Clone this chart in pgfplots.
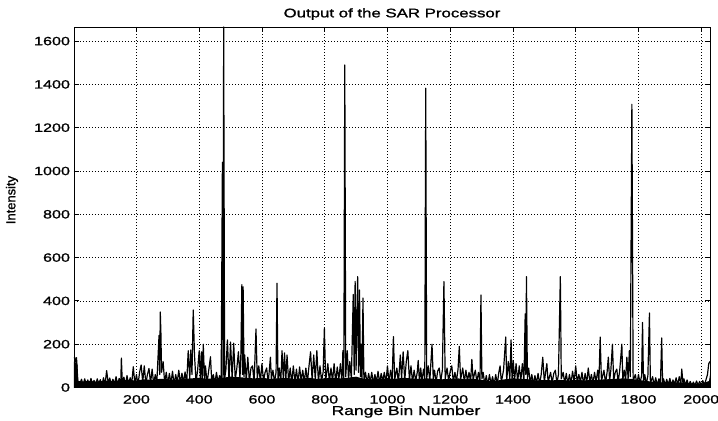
\documentclass[border=0pt]{standalone}
\usepackage{fontspec}
\setmainfont{Liberation Sans}
\newfontfamily\widefont{Liberation Sans}[FakeStretch=1.35, FakeBold=1.2]
\newfontfamily\labfont{Liberation Sans}[FakeBold=1.2]
\usepackage{pgfplots}
\pgfplotsset{compat=1.18}

% SAR processor output, read off the scan bin by bin (every ~5 bins)
\pgfplotstableread{
x y
1 135
3 140
6 118
9 138
12 60
14 20
18 12
25 38
30 8
35 40
40 14
45 35
50 10
55 42
60 15
65 33
70 9
75 40
80 18
85 36
90 8
95 45
100 12
105 78
110 20
115 44
120 10
125 38
130 15
135 50
140 12
145 42
150 18
152 136
155 20
160 48
165 10
170 55
175 14
180 45
185 20
190 96
195 15
200 60
205 12
210 70
215 104
220 25
225 100
230 18
235 60
240 88
245 20
250 85
255 14
260 60
265 22
272 240
274 60
276 349
278 250
280 70
285 120
290 20
295 70
300 15
305 65
310 20
315 75
320 12
325 60
330 25
335 80
340 18
345 66
350 22
355 72
360 15
365 170
370 40
373 173
377 60
381 358
385 150
390 25
395 80
400 170
404 30
407 165
410 40
413 200
417 30
420 100
425 20
430 75
436 142
440 25
445 60
450 18
455 70
460 25
465 55
470 20
474 1040
476 30
478 1665
481 40
485 80
490 220
495 30
500 210
505 40
510 205
515 35
520 90
525 165
530 40
533 160
536 475
538 60
540 465
543 50
545 150
550 30
555 140
560 25
565 90
570 100
575 20
581 270
585 40
590 100
595 25
600 110
605 30
610 70
615 90
620 20
627 140
630 40
635 80
640 25
645 70
648 482
651 30
655 90
660 25
664 170
668 40
672 160
676 30
680 150
685 25
690 90
695 20
700 100
705 25
710 85
715 20
720 95
725 30
730 80
735 22
740 90
745 25
750 100
755 165
760 30
765 150
770 35
775 170
780 25
785 100
790 30
795 70
799 275
803 30
810 110
815 25
820 90
825 30
830 110
835 20
840 95
845 35
850 110
855 25
858 170
861 40
864 1490
867 50
872 170
876 30
880 120
885 40
891 430
894 60
897 490
900 80
905 512
908 70
911 450
914 50
916 200
919 40
922 413
925 30
930 70
935 20
940 65
945 25
950 70
955 18
960 60
965 25
970 75
975 20
980 65
985 30
990 70
995 20
1000 100
1005 25
1010 80
1015 30
1019 235
1023 35
1030 90
1035 20
1041 150
1045 40
1050 165
1055 30
1060 120
1065 170
1070 35
1075 100
1080 25
1085 80
1090 30
1095 70
1098 125
1102 25
1106 90
1110 30
1115 85
1119 40
1122 1382
1125 40
1130 100
1135 30
1142 200
1146 40
1150 80
1155 25
1160 75
1165 90
1170 30
1175 80
1180 489
1184 40
1190 90
1195 30
1200 75
1205 100
1210 25
1215 70
1220 30
1225 85
1229 190
1233 35
1240 90
1245 25
1250 80
1255 30
1260 70
1265 25
1269 130
1273 35
1280 80
1285 25
1290 70
1295 30
1298 427
1301 40
1305 70
1310 15
1315 55
1320 10
1325 60
1330 18
1335 50
1340 12
1345 60
1350 15
1355 70
1359 100
1363 25
1370 80
1377 233
1380 30
1385 120
1390 40
1394 220
1397 35
1401 125
1405 30
1410 110
1415 25
1420 100
1425 30
1430 110
1435 25
1439 340
1441 60
1443 512
1446 40
1450 90
1455 20
1460 60
1465 15
1470 55
1475 20
1480 65
1485 15
1490 60
1495 140
1500 25
1505 80
1508 110
1512 25
1520 70
1525 20
1530 65
1535 80
1540 20
1545 60
1551 512
1554 40
1560 70
1565 20
1570 65
1575 15
1580 60
1585 20
1590 75
1595 25
1600 100
1605 20
1610 60
1615 25
1620 70
1625 15
1630 65
1635 20
1640 90
1645 25
1650 60
1655 20
1660 70
1665 25
1670 80
1674 30
1678 233
1682 30
1690 80
1695 20
1700 70
1704 140
1708 30
1712 80
1717 200
1721 30
1726 70
1731 85
1735 25
1740 75
1747 200
1750 35
1755 80
1759 30
1763 140
1767 40
1771 170
1774 50
1779 1308
1783 30
1790 60
1795 15
1800 60
1805 20
1810 55
1813 300
1816 20
1820 60
1825 15
1830 55
1835 344
1838 20
1845 50
1850 12
1855 45
1860 10
1865 40
1870 15
1874 229
1877 15
1880 40
1885 10
1890 38
1895 12
1900 42
1905 10
1910 35
1915 15
1920 45
1925 12
1930 50
1935 15
1938 85
1942 15
1945 40
1950 10
1955 35
1960 8
1965 28
1970 10
1975 25
1980 8
1985 30
1990 10
1995 28
2000 8
2005 32
2010 10
2015 35
2020 60
2024 110
2028 120
}\sardata

% top of the solid noise floor band (dense black region near zero)
\pgfplotstableread{
x y
1 120
12 110
14 30
25 28
50 30
75 27
100 32
125 30
150 33
175 35
200 32
225 38
250 35
275 40
300 38
325 36
350 40
375 42
400 45
425 40
450 42
475 45
500 50
525 48
550 45
575 42
600 45
625 40
650 42
675 45
700 40
725 42
750 45
775 40
800 42
825 45
850 42
875 45
900 50
925 40
950 38
975 40
1000 42
1025 40
1050 45
1075 42
1100 40
1125 42
1150 40
1175 38
1200 40
1225 42
1250 38
1275 40
1300 35
1325 30
1350 32
1375 38
1400 42
1425 40
1450 38
1475 32
1500 35
1525 33
1550 35
1575 32
1600 35
1625 33
1650 34
1675 36
1700 38
1725 40
1750 42
1775 40
1800 35
1825 30
1850 26
1875 24
1900 25
1925 24
1950 22
1975 18
2000 17
2025 30
2028 60
}\floordata

\begin{document}
\begin{tikzpicture}
\useasboundingbox (-74bp,-33.5bp) rectangle (644bp,387.5bp);
\begin{axis}[
    scale only axis,
    width=636bp, height=360.5bp,
    at={(0,0)}, anchor=south west,
    xmin=1, xmax=2028,
    ymin=0, ymax=1665,
    xtick={200,400,...,2000},
    ytick={0,200,...,1600},
    xtick pos=both, ytick pos=both,
    tick align=inside,
    major tick length=5bp,
    axis line style={line width=0.8pt},
    every tick/.style={black, line width=0.8pt},
    grid=major,
    grid style={black, line width=0.7pt, dash pattern=on 0.8pt off 2.2pt},
    /pgf/number format/assume math mode=true,
    /pgf/number format/1000 sep={},
    tick label style={font=\widefont\fontsize{12}{13}\selectfont},
    xticklabel style={anchor=base, yshift=-16bp},
    yticklabel style={anchor=east, xshift=-0.5bp},
    title={Output of the SAR Processor},
    title style={font=\widefont\fontsize{12.5}{13}\selectfont, anchor=base, at={(axis description cs:0.5,1)}, yshift=3.7bp},
    xlabel={Range Bin Number},
    xlabel style={font=\widefont\fontsize{13}{14}\selectfont, anchor=base, at={(axis description cs:0.522,0)}, yshift=-27.5bp},
    ylabel={Intensity},
    ylabel style={font=\labfont\fontsize{13}{14}\selectfont, anchor=center, at={(axis description cs:-0.0975,0.52)}},
]
\addplot[black, fill=black, draw=none, mark=none] table[x=x, y=y] {\floordata} \closedcycle;
\addplot[black, line width=1.2pt, line join=round, mark=none] table[x=x, y=y] {\sardata};
\end{axis}
\end{tikzpicture}
\end{document}
